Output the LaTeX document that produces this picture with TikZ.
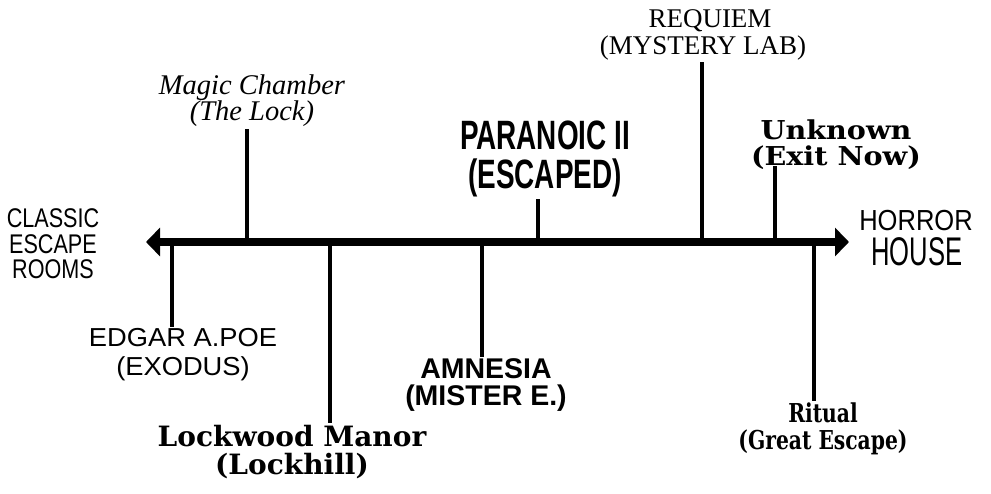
\documentclass[tikz,border=0pt]{standalone}
\usepackage{fontspec}
\setmainfont{Liberation Serif}
\newfontfamily\lsans{Liberation Sans}
\newfontfamily\lserif{Liberation Serif}
\newfontfamily\dvserif{DejaVu Serif}
\usetikzlibrary{arrows.meta}
\tikzset{
  axisline/.style={line width=8pt,{Triangle[length=14pt,width=28pt]}-{Triangle[length=14pt,width=28pt]}},
  tickline/.style={line width=4pt},
  lbl/.style={inner sep=0pt,outer sep=1.5pt,anchor=base},
  fclassic/.style={font=\lsans\fontsize{27}{27}\selectfont,xscale=0.8},
  fhorrorA/.style={font=\lsans\fontsize{29}{29}\selectfont,xscale=0.88},
  fhorrorB/.style={font=\lsans\fontsize{40}{40}\selectfont,xscale=0.64},
  fmagic/.style={font=\lserif\itshape\fontsize{28.5}{28.5}\selectfont},
  fparanoic/.style={font=\lsans\bfseries\fontsize{41}{41}\selectfont,xscale=0.68},
  frequiem/.style={font=\lserif\fontsize{27}{27}\selectfont},
  funknown/.style={font=\dvserif\bfseries\fontsize{26}{26}\selectfont,xscale=1.1},
  fedgar/.style={font=\lsans\fontsize{26}{26}\selectfont,xscale=1.05},
  famnesia/.style={font=\lsans\bfseries\fontsize{28.5}{28.5}\selectfont},
  flockwood/.style={font=\dvserif\bfseries\fontsize{28}{28}\selectfont},
  fritual/.style={font=\dvserif\bfseries\fontsize{26}{26}\selectfont,xscale=0.78},
}
\begin{document}
\begin{tikzpicture}[x=1pt,y=-1pt]
\useasboundingbox (0,0) rectangle (991,494);
% axis
\coordinate (L) at (146,242);
\coordinate (R) at (849,242);
\draw[axisline] (L) -- (R);
% end labels
\node[lbl,fclassic] (cl1) at (53,228) {CLASSIC};
\node[lbl,fclassic] (cl2) at (53,254) {ESCAPE};
\node[lbl,fclassic] (cl3) at (53,279) {ROOMS};
\node[lbl,fhorrorA] (ho1) at (916,231) {HORROR};
\node[lbl,fhorrorB] (ho2) at (917,266) {HOUSE};
% axis points
\coordinate (tmc) at (247,242);
\coordinate (ted) at (172,242);
\coordinate (tlw) at (330,242);
\coordinate (tam) at (482,242);
\coordinate (tpa) at (538,242);
\coordinate (trq) at (702,242);
\coordinate (tun) at (775,242);
\coordinate (tri) at (814,242);
% labels above
\node[lbl,fmagic] (mc1) at (252,95) {Magic Chamber};
\node[lbl,fmagic] (mc2) at (252,121) {(The Lock)};
\node[lbl,fparanoic] (pa1) at (545,150) {PARANOIC II};
\node[lbl,fparanoic] (pa2) at (545,189) {(ESCAPED)};
\node[lbl,frequiem] (rq1) at (710,28) {REQUIEM};
\node[lbl,frequiem] (rq2) at (703,55) {(MYSTERY LAB)};
\node[lbl,funknown] (un1) at (836,140) {Unknown};
\node[lbl,funknown] (un2) at (836,166) {(Exit Now)};
% labels below
\node[lbl,fedgar] (ed1) at (183,347) {EDGAR A.POE};
\node[lbl,fedgar] (ed2) at (183,376) {(EXODUS)};
\node[lbl,famnesia] (am1) at (486,378) {AMNESIA};
\node[lbl,famnesia] (am2) at (486,405) {(MISTER E.)};
\node[lbl,flockwood] (lw1) at (292,446) {Lockwood Manor};
\node[lbl,flockwood] (lw2) at (292,474) {(Lockhill)};
\node[lbl,fritual] (ri1) at (823,422) {Ritual};
\node[lbl,fritual] (ri2) at (823,449) {(Great Escape)};
% ticks
\draw[tickline] (tmc) -- (tmc |- mc2.south);
\draw[tickline] (tpa) -- (tpa |- pa2.south);
\draw[tickline] (trq) -- (trq |- rq2.south);
\draw[tickline] (tun) -- (tun |- un2.base);
\draw[tickline] (ted) -- (ted |- ed1.north);
\draw[tickline] (tam) -- (tam |- am1.north);
\draw[tickline] (tlw) -- (tlw |- lw1.north);
\draw[tickline] (tri) -- (tri |- ri1.north);
\end{tikzpicture}
\end{document}
